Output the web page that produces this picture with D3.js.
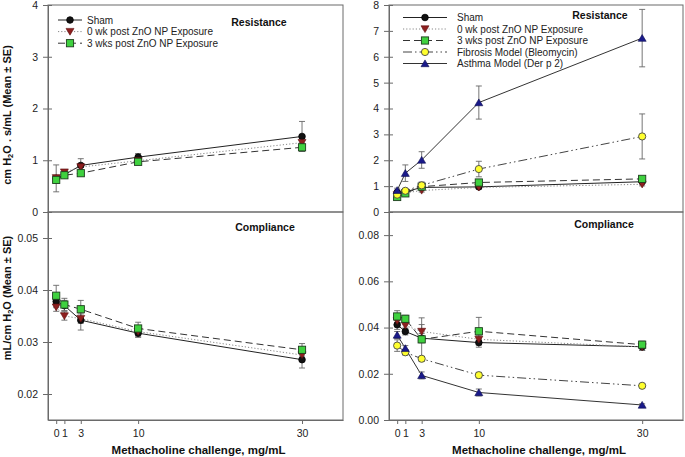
<!DOCTYPE html>
<html>
<head>
<meta charset="utf-8">
<script src="https://cdn.jsdelivr.net/npm/d3@7"></script>
<style>
  html, body { margin: 0; padding: 0; background: #fff; }
  svg { display: block; font-family: "Liberation Sans", Arial, sans-serif; }
</style>
</head>
<body>
<svg id="chart" width="685" height="457"></svg>
<script>
// ---------------- DATA ----------------
const doses = [0, 1, 3, 10, 30];
const xTickValues = [0, 1, 3, 10, 30];
const seriesNames = ["Sham", "0 wk post ZnO NP Exposure", "3 wks post ZnO NP Exposure", "Fibrosis Model (Bleomycin)", "Asthma Model (Der p 2)"];

// Left column, resistance (cm H2O.s/mL)
const resLeftSham   = [0.65, 0.72, 0.90, 1.06, 1.46];
const resLeftShamSE = [0.26, 0.05, 0.13, 0.07, 0.29];
const resLeft0wk    = [0.66, 0.77, 0.87, 0.99, 1.34];
const resLeft0wkSE  = [0.05, 0.04, 0.06, 0.05, 0.08];
const resLeft3wk    = [0.62, 0.71, 0.75, 0.97, 1.25];
const resLeft3wkSE  = [0.05, 0.04, 0.04, 0.04, 0.08];

// Right column, resistance
const resRightSham     = [0.76, 0.78, 0.95, 0.97, 1.17];
const resRightShamSE   = [0.05, 0.05, 0.06, 0.05, 0.07];
const resRight0wk      = [0.66, 0.74, 0.83, 0.95, 1.07];
const resRight0wkSE    = [0.04, 0.05, 0.06, 0.05, 0.06];
const resRight3wk      = [0.58, 0.72, 0.98, 1.14, 1.28];
const resRight3wkSE    = [0.04, 0.04, 0.08, 0.06, 0.07];
const resRightFib      = [0.67, 0.82, 1.03, 1.66, 2.92];
const resRightFibSE    = [0.05, 0.07, 0.13, 0.30, 0.87];
const resRightAsthma   = [0.84, 1.50, 2.01, 4.23, 6.72];
const resRightAsthmaSE = [0.08, 0.32, 0.32, 0.64, 1.11];

// Left column, compliance (mL/cm H2O)
const compLeftSham   = [0.0378, 0.0370, 0.0342, 0.0317, 0.0266];
const compLeftShamSE = [0.0012, 0.0010, 0.0019, 0.0008, 0.0016];
const compLeft0wk    = [0.0367, 0.0350, 0.0345, 0.0320, 0.0275];
const compLeft0wkSE  = [0.0008, 0.0008, 0.0009, 0.0010, 0.0012];
const compLeft3wk    = [0.0389, 0.0372, 0.0363, 0.0326, 0.0285];
const compLeft3wkSE  = [0.0020, 0.0012, 0.0017, 0.0012, 0.0012];

// Right column, compliance
const compRightSham     = [0.0412, 0.0383, 0.0354, 0.0335, 0.0317];
const compRightShamSE   = [0.0020, 0.0015, 0.0020, 0.0020, 0.0015];
const compRight0wk      = [0.0429, 0.0409, 0.0383, 0.0349, 0.0316];
const compRight0wkSE    = [0.0015, 0.0015, 0.0030, 0.0015, 0.0015];
const compRight3wk      = [0.0448, 0.0438, 0.0349, 0.0384, 0.0326];
const compRight3wkSE    = [0.0025, 0.0015, 0.0093, 0.0060, 0.0015];
const compRightFib      = [0.0322, 0.0293, 0.0265, 0.0194, 0.0148];
const compRightFibSE    = [0.0025, 0.0012, 0.0010, 0.0012, 0.0008];
const compRightAsthma   = [0.0368, 0.0310, 0.0193, 0.0119, 0.0065];
const compRightAsthmaSE = [0.0015, 0.0012, 0.0015, 0.0015, 0.0005];

const resLeftTicks   = [0, 1, 2, 3, 4];
const resRightTicks  = [0, 1, 2, 3, 4, 5, 6, 7, 8];
const compLeftTicks  = [0.02, 0.03, 0.04, 0.05];
const compRightTicks = [0.00, 0.02, 0.04, 0.06, 0.08];

// ---------------- STYLES ----------------
const styles = [
  { shape: "circle",   fill: "#111111", stroke: "#000", dash: null,             lineColor: "#222", lw: 1 },
  { shape: "triDown",  fill: "#8e1f1f", stroke: "#5a0d0d", dash: "1.2,2",       lineColor: "#888", lw: 1 },
  { shape: "square",   fill: "#3fd13f", stroke: "#1d3d1d", dash: "7,4",         lineColor: "#333", lw: 1 },
  { shape: "circleY",  fill: "#ffff2e", stroke: "#444", dash: "9,3,1.5,3,1.5,3", lineColor: "#444", lw: 1 },
  { shape: "triUp",    fill: "#1a1a8a", stroke: "#0d0d50", dash: null,          lineColor: "#333", lw: 1 }
];

const svg = d3.select("#chart");
const frameColor = "#6a6a6a";

const xDomain = [-1, 35];
const cols = { left: [48, 343], right: [389, 683] };
const rows = { top: [5, 212], bottom: [212, 420] };

function drawMarker(g, shape, x, y, st) {
  if (shape === "circle") {
    g.append("circle").attr("cx", x).attr("cy", y).attr("r", 3.3).attr("fill", st.fill).attr("stroke", st.stroke).attr("stroke-width", 0.8);
  } else if (shape === "circleY") {
    g.append("circle").attr("cx", x).attr("cy", y).attr("r", 3.6).attr("fill", st.fill).attr("stroke", st.stroke).attr("stroke-width", 0.9);
  } else if (shape === "square") {
    g.append("rect").attr("x", x - 3.6).attr("y", y - 3.6).attr("width", 7.2).attr("height", 7.2).attr("fill", st.fill).attr("stroke", st.stroke).attr("stroke-width", 0.9);
  } else if (shape === "triDown") {
    const s = 4;
    g.append("path").attr("d", `M${x - s},${y - s * 0.8}L${x + s},${y - s * 0.8}L${x},${y + s * 0.9}Z`).attr("fill", st.fill).attr("stroke", st.stroke).attr("stroke-width", 0.6);
  } else if (shape === "triUp") {
    const s = 4;
    g.append("path").attr("d", `M${x - s},${y + s * 0.8}L${x + s},${y + s * 0.8}L${x},${y - s * 0.9}Z`).attr("fill", st.fill).attr("stroke", st.stroke).attr("stroke-width", 0.6);
  }
}

function panel(opts) {
  const [x0, x1] = cols[opts.col];
  const [y0, y1] = rows[opts.row];
  const x = d3.scaleLinear().domain(xDomain).range([x0, x1]);
  const y = d3.scaleLinear().domain(opts.yDomain).range([y1, y0]);
  const g = svg.append("g");

  // frame
  g.append("rect").attr("x", x0).attr("y", y0).attr("width", x1 - x0).attr("height", y1 - y0)
    .attr("fill", "none").attr("stroke", frameColor).attr("stroke-width", 1);

  // y axis
  const ya = g.append("g").attr("transform", `translate(${x0},0)`)
    .call(d3.axisLeft(y).tickValues(opts.yTicks).tickFormat(opts.yFormat).tickSizeInner(5).tickSizeOuter(0).tickPadding(5));
  ya.select(".domain").attr("stroke", frameColor);
  ya.selectAll(".tick line").attr("stroke", frameColor);
  ya.selectAll(".tick text").attr("font-size", "10.5px").attr("fill", "#222");
  // inner part of ticks (ticks cross axis)
  g.append("g").attr("transform", `translate(${x0},0)`)
    .call(d3.axisRight(y).tickValues(opts.yTicks).tickFormat("").tickSizeInner(4).tickSizeOuter(0))
    .call(a => a.select(".domain").remove())
    .selectAll(".tick line").attr("stroke", frameColor);

  if (opts.row === "bottom") {
    const xa = g.append("g").attr("transform", `translate(0,${y1})`)
      .call(d3.axisBottom(x).tickValues(xTickValues).tickFormat(d3.format("d")).tickSizeInner(4).tickSizeOuter(0).tickPadding(6));
    xa.select(".domain").attr("stroke", frameColor);
    xa.selectAll(".tick line").attr("stroke", frameColor);
    xa.selectAll(".tick text").attr("font-size", "10.5px").attr("fill", "#222");
    g.append("text").attr("x", (x0 + x1) / 2 + 3).attr("y", 454).attr("text-anchor", "middle")
      .attr("font-size", "11.5px").attr("font-weight", "bold").attr("fill", "#111")
      .text("Methacholine challenge, mg/mL");
  }

  // panel title
  g.append("text").attr("x", opts.titlePos[0]).attr("y", opts.titlePos[1]).attr("text-anchor", "middle")
    .attr("font-size", "10.5px").attr("font-weight", "bold").attr("fill", "#111").text(opts.title);

  const line = d3.line().x(d => x(d[0])).y(d => y(d[1]));

  // lines
  opts.series.forEach(s => {
    const st = styles[s.style];
    const pts = doses.map((d, i) => [d, s.mean[i]]);
    g.append("path").attr("d", line(pts)).attr("fill", "none")
      .attr("stroke", st.lineColor).attr("stroke-width", st.lw)
      .attr("stroke-dasharray", st.dash);
  });
  // error bars
  opts.series.forEach(s => {
    doses.forEach((d, i) => {
      const cx = x(d), top = y(s.mean[i] + s.se[i]), bot = y(s.mean[i] - s.se[i]);
      const eb = g.append("g").attr("stroke", "#666").attr("stroke-width", 0.9);
      eb.append("line").attr("x1", cx).attr("x2", cx).attr("y1", top).attr("y2", bot);
      eb.append("line").attr("x1", cx - 3).attr("x2", cx + 3).attr("y1", top).attr("y2", top);
      eb.append("line").attr("x1", cx - 3).attr("x2", cx + 3).attr("y1", bot).attr("y2", bot);
    });
  });
  // markers
  opts.series.forEach(s => {
    const st = styles[s.style];
    doses.forEach((d, i) => drawMarker(g, st.shape, x(d), y(s.mean[i]), st));
  });

  // legend
  if (opts.legend) {
    const L = opts.legend;
    opts.series.forEach((s, k) => {
      const st = styles[s.style];
      const ly = L.y + k * L.dy;
      g.append("line").attr("x1", L.x1).attr("x2", L.x2).attr("y1", ly).attr("y2", ly)
        .attr("stroke", st.lineColor).attr("stroke-width", st.lw).attr("stroke-dasharray", st.dash);
      drawMarker(g, st.shape, (L.x1 + L.x2) / 2, ly, st);
      g.append("text").attr("x", L.tx).attr("y", ly + 3.6).attr("font-size", "10px").attr("fill", "#222")
        .text(seriesNames[s.style]);
    });
  }
}

panel({
  col: "left", row: "top", yDomain: [0, 4], yTicks: resLeftTicks, yFormat: d3.format("d"),
  title: "Resistance", titlePos: [259, 26],
  legend: { x1: 58, x2: 82, tx: 87, y: 20, dy: 11.6 },
  series: [
    { style: 0, mean: resLeftSham, se: resLeftShamSE },
    { style: 1, mean: resLeft0wk, se: resLeft0wkSE },
    { style: 2, mean: resLeft3wk, se: resLeft3wkSE }
  ]
});
panel({
  col: "left", row: "bottom", yDomain: [0.015, 0.055], yTicks: compLeftTicks, yFormat: d3.format(".2f"),
  title: "Compliance", titlePos: [265, 231],
  series: [
    { style: 0, mean: compLeftSham, se: compLeftShamSE },
    { style: 1, mean: compLeft0wk, se: compLeft0wkSE },
    { style: 2, mean: compLeft3wk, se: compLeft3wkSE }
  ]
});
panel({
  col: "right", row: "top", yDomain: [0, 8], yTicks: resRightTicks, yFormat: d3.format("d"),
  title: "Resistance", titlePos: [600, 19],
  legend: { x1: 403, x2: 447, tx: 457, y: 17.5, dy: 11.5 },
  series: [
    { style: 0, mean: resRightSham, se: resRightShamSE },
    { style: 1, mean: resRight0wk, se: resRight0wkSE },
    { style: 2, mean: resRight3wk, se: resRight3wkSE },
    { style: 3, mean: resRightFib, se: resRightFibSE },
    { style: 4, mean: resRightAsthma, se: resRightAsthmaSE }
  ]
});
panel({
  col: "right", row: "bottom", yDomain: [0, 0.09], yTicks: compRightTicks, yFormat: d3.format(".2f"),
  title: "Compliance", titlePos: [604, 228],
  series: [
    { style: 0, mean: compRightSham, se: compRightShamSE },
    { style: 1, mean: compRight0wk, se: compRight0wkSE },
    { style: 2, mean: compRight3wk, se: compRight3wkSE },
    { style: 3, mean: compRightFib, se: compRightFibSE },
    { style: 4, mean: compRightAsthma, se: compRightAsthmaSE }
  ]
});

// y-axis titles (with subscript 2)
function yTitle(cx, cy, parts) {
  const t = svg.append("text").attr("transform", `translate(${cx},${cy}) rotate(-90)`)
    .attr("text-anchor", "middle").attr("dominant-baseline", "central")
    .attr("font-size", "11px").attr("font-weight", "bold").attr("fill", "#111");
  parts.forEach(p => {
    const ts = t.append("tspan").text(p.t);
    if (p.sub) ts.attr("font-size", "7.5px").attr("dy", "3");
    if (p.after) ts.attr("dy", "-3");
  });
}
yTitle(7, 115, [{ t: "cm H" }, { t: "2", sub: true }, { t: "O . s/mL (Mean ± SE)", after: true }]);
yTitle(7, 298, [{ t: "mL/cm H" }, { t: "2", sub: true }, { t: "O (Mean ± SE)", after: true }]);
</script>
</body>
</html>
